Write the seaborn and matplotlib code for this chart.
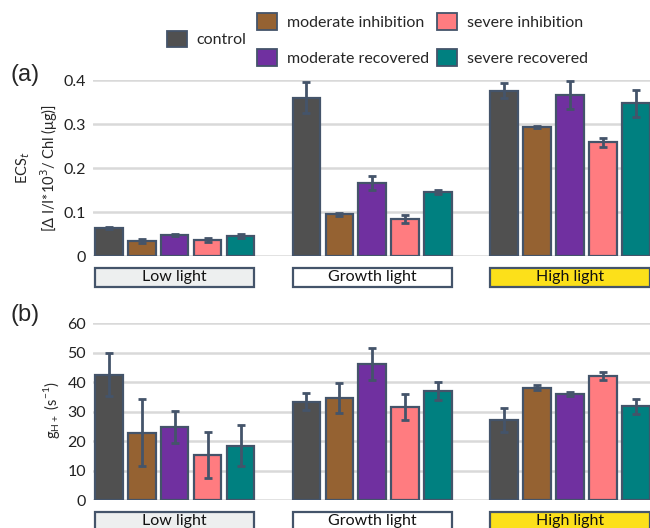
import numpy as np
import pandas as pd
import matplotlib
matplotlib.use("Agg")
import matplotlib.pyplot as plt
import matplotlib.transforms as mtrans
from matplotlib.patches import Patch, Rectangle
import seaborn as sns

lights = ["Low light", "Growth light", "High light"]
treatments = ["control", "moderate inhibition", "moderate recovered",
              "severe inhibition", "severe recovered"]
colors = ["#505050", "#956232", "#7030A0", "#FF7C80", "#008080"]
box_colors = ["#EDEFEF", "#FFFFFF", "#FCE01A"]

# panel (a): ECS_t  (rows = light, cols = treatment)
ecs_vals = [[0.064, 0.034, 0.048, 0.036, 0.046],
            [0.360, 0.095, 0.166, 0.084, 0.146],
            [0.376, 0.293, 0.366, 0.258, 0.347]]
ecs_err = [[0.003, 0.004, 0.003, 0.004, 0.005],
           [0.035, 0.003, 0.015, 0.009, 0.004],
           [0.018, 0.002, 0.032, 0.011, 0.030]]
# panel (b): gH+
gh_vals = [[42.5, 22.9, 24.8, 15.3, 18.5],
           [33.3, 34.6, 46.3, 31.7, 37.0],
           [27.1, 38.2, 36.0, 42.0, 31.8]]
gh_err = [[7.3, 11.5, 5.5, 7.8, 7.0],
          [2.9, 5.2, 5.4, 4.4, 3.2],
          [4.0, 0.7, 0.6, 1.3, 2.6]]

edge = "#44546A"

sns.set_theme(style="white")
plt.rcParams['font.family'] = ['Lato', 'DejaVu Sans']

fig = plt.figure(figsize=(6.5, 5.28), dpi=100)
ax_a = fig.add_axes([93/650, 1-256/528, 1-93/650, 176/528])
ax_b = fig.add_axes([93/650, 1-500/528, 1-93/650, 176.7/528])


def panel(ax, vals, errs, yticks, ylabels, box_y0, box_h):
    rows = []
    for i, L in enumerate(lights):
        for j, t in enumerate(treatments):
            rows.append({"light": L, "treatment": t, "value": vals[i][j], "err": errs[i][j]})
    df = pd.DataFrame(rows)
    sns.barplot(data=df, x="light", y="value", hue="treatment", order=lights,
                hue_order=treatments, palette=colors, width=5/6, gap=0.16,
                edgecolor=edge, linewidth=1.6, errorbar=None, legend=False,
                ax=ax, zorder=3, saturation=1)
    bar_conts = list(ax.containers)
    for j, cont in enumerate(bar_conts):
        for i, bar in enumerate(cont.patches):
            xc = bar.get_x() + bar.get_width() / 2
            ax.errorbar(xc, bar.get_height(), yerr=errs[i][j], color=edge,
                        lw=2, capsize=3, capthick=2, zorder=4, clip_on=False)
    ax.set_xlim(-0.413, 2.405)
    ax.set_ylim(yticks[0], yticks[-1])
    ax.set_yticks(yticks)
    ax.set_yticklabels(ylabels, fontsize=11.5, color="#222222")
    ax.set_xticks([])
    ax.set_xlabel("")
    ax.set_ylabel("")
    for s in ax.spines.values():
        s.set_visible(False)
    ax.grid(axis="y", color="#D9D9D9", lw=1.8, zorder=0)
    ax.set_axisbelow(True)
    ax.tick_params(axis="y", length=0, pad=5)
    trans = mtrans.blended_transform_factory(ax.transData, ax.transAxes)
    half = 2/6 + 0.84/12
    for k, L in enumerate(lights):
        r = Rectangle((k - half, box_y0), 2*half, box_h, transform=trans,
                      facecolor=box_colors[k], edgecolor=edge, lw=1.6, clip_on=False)
        ax.add_patch(r)
        ax.text(k, box_y0 + box_h/2, L, transform=trans, ha="center", va="center",
                fontsize=11.5, color="#111111")


panel(ax_a, ecs_vals, ecs_err, [0, 0.1, 0.2, 0.3, 0.4],
      ["0", "0.1", "0.2", "0.3", "0.4"], -31/176, 19/176)
panel(ax_b, gh_vals, gh_err, [0, 10, 20, 30, 40, 50, 60],
      ["0", "10", "20", "30", "40", "50", "60"], -31/176.7, 19/176.7)

fig.text(37/650, 1-168/528, "ECS$_t$\n[Δ I/I*10$^3$/ Chl (μg)]", rotation=90,
         ha="center", va="center", fontsize=10.5, linespacing=1.4)
fig.text(51/650, 1-410/528,
         r"g$_{\mathregular{H+}}$ (s$^{\mathregular{-1}}$)", rotation=90,
         ha="center", va="center", fontsize=10.5)
fig.text(11/650, 1-75/528, "(a)", fontsize=17, ha="left", va="center",
         family="Liberation Sans")
fig.text(11/650, 1-315/528, "(b)", fontsize=17, ha="left", va="center",
         family="Liberation Sans")

handles = [Patch(facecolor=c, edgecolor=edge, lw=1.3) for c in colors]
leg_kw = dict(frameon=False, fontsize=11.5, handlelength=1.25, handleheight=1.25,
              handletextpad=0.6, borderaxespad=0, borderpad=0, labelspacing=1.2,
              loc="center left")
leg1 = fig.legend([handles[0]], [treatments[0]],
                  bbox_to_anchor=(167/650, 1-39/528), **leg_kw)
leg2 = fig.legend([handles[1], handles[2]], [treatments[1], treatments[2]],
                  bbox_to_anchor=(257/650, 1-39.5/528), **leg_kw)
leg3 = fig.legend([handles[3], handles[4]], [treatments[3], treatments[4]],
                  bbox_to_anchor=(437/650, 1-39.5/528), **leg_kw)

fig.savefig("out.png", dpi=100)
